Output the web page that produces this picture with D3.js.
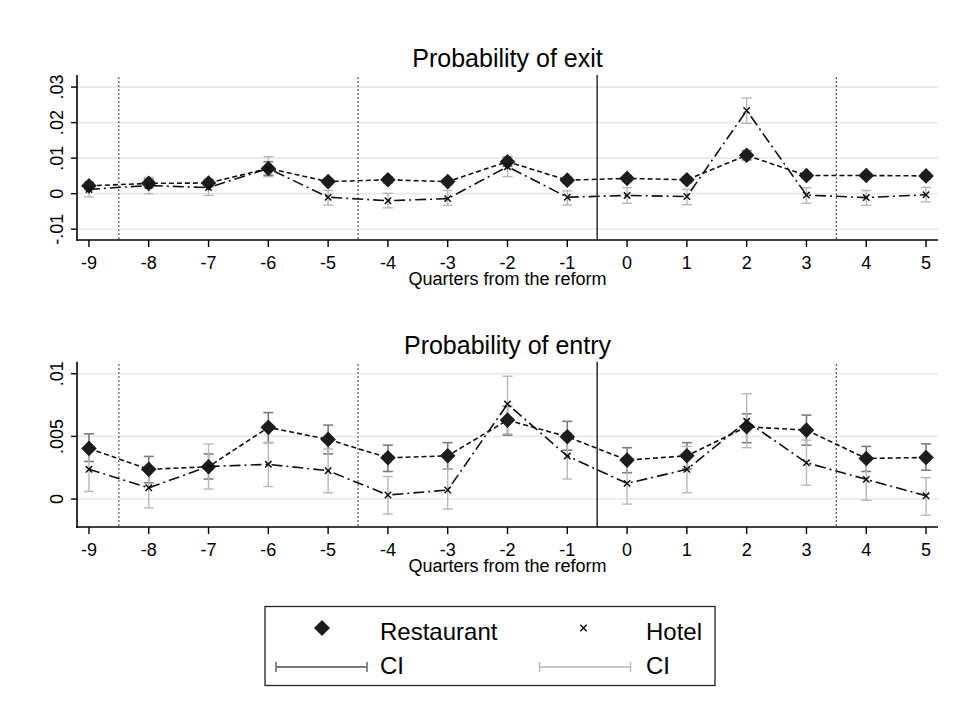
<!DOCTYPE html>
<html>
<head>
<meta charset="utf-8">
<script src="https://cdn.jsdelivr.net/npm/d3@7"></script>
<style>
  html, body { margin: 0; padding: 0; background: #fff; }
  svg { display: block; font-family: "Liberation Sans", Arial, sans-serif; }
</style>
</head>
<body>
<svg id="chart" width="959" height="704"></svg>
<script>
// Event-study estimates by quarter relative to the reform
const quarters = [-9, -8, -7, -6, -5, -4, -3, -2, -1, 0, 1, 2, 3, 4, 5];
const xTickLabels = ["-9", "-8", "-7", "-6", "-5", "-4", "-3", "-2", "-1", "0", "1", "2", "3", "4", "5"];

// Probability of exit
const exitRest   = [0.0022, 0.0029, 0.0030, 0.0071, 0.0034, 0.0039, 0.0034, 0.0090, 0.0038, 0.0043, 0.0039, 0.0108, 0.0051, 0.0051, 0.0050];
const exitRestLo = [0.0012, 0.0017, 0.0020, 0.0052, 0.0026, 0.0031, 0.0026, 0.0077, 0.0030, 0.0035, 0.0031, 0.0095, 0.0043, 0.0043, 0.0042];
const exitRestHi = [0.0032, 0.0041, 0.0040, 0.0090, 0.0042, 0.0047, 0.0042, 0.0103, 0.0046, 0.0051, 0.0047, 0.0121, 0.0059, 0.0059, 0.0058];
const exitHotel   = [0.0012, 0.0023, 0.0017, 0.0071, -0.0010, -0.0020, -0.0014, 0.0076, -0.0010, -0.0005, -0.0008, 0.0234, -0.0004, -0.0011, -0.0003];
const exitHotelLo = [-0.0009, 0.0000, -0.0005, 0.0048, -0.0032, -0.0040, -0.0033, 0.0048, -0.0032, -0.0027, -0.0031, 0.0198, -0.0027, -0.0033, -0.0023];
const exitHotelHi = [0.0034, 0.0046, 0.0040, 0.0104, 0.0009, 0.0001, 0.0009, 0.0100, 0.0008, 0.0017, 0.0012, 0.0269, 0.0017, 0.0009, 0.0018];
const exitYTicks = [-0.01, 0, 0.01, 0.02, 0.03];
const exitYLabels = ["-.01", "0", ".01", ".02", ".03"];

// Probability of entry
const entryRest   = [0.00404, 0.00237, 0.00258, 0.00572, 0.00476, 0.00329, 0.00345, 0.0063, 0.00497, 0.00311, 0.00345, 0.00577, 0.0055, 0.00324, 0.00332];
const entryRestLo = [0.0030, 0.0013, 0.0016, 0.0045, 0.0036, 0.0022, 0.0024, 0.0051, 0.0039, 0.0021, 0.0024, 0.0045, 0.0043, 0.0022, 0.0023];
const entryRestHi = [0.0052, 0.0034, 0.0036, 0.0069, 0.0059, 0.0043, 0.0045, 0.0074, 0.0062, 0.0041, 0.0045, 0.0068, 0.0067, 0.0042, 0.0044];
const entryHotel   = [0.00237, 0.0009, 0.0026, 0.00277, 0.00226, 0.00032, 0.00072, 0.00758, 0.00343, 0.00125, 0.00237, 0.0062, 0.0029, 0.00157, 0.00026];
const entryHotelLo = [0.0006, -0.0007, 0.0008, 0.0010, 0.0005, -0.0012, -0.0008, 0.0052, 0.0016, -0.0004, 0.0005, 0.0041, 0.0011, -0.0001, -0.0013];
const entryHotelHi = [0.0042, 0.0025, 0.0044, 0.0045, 0.0040, 0.0018, 0.0024, 0.0098, 0.0053, 0.0029, 0.0042, 0.0084, 0.0047, 0.0033, 0.0017];
const entryYTicks = [0, 0.005, 0.01];
const entryYLabels = ["0", ".005", ".01"];

// Reference lines: the reform (solid) and period breaks (dotted)
const reformLine = -0.5;
const breakLines = [-8.5, -4.5, 3.5];

const xAxisTitle = "Quarters from the reform";
const legendItems = ["Restaurant", "Hotel", "CI", "CI"];

const svg = d3.select("#chart");
const FONT = "\"Liberation Sans\", Arial, sans-serif";
const colRestCI = "#7c7c7c";
const colHotelCI = "#b8b8b8";
const colGrid = "#e9e9e9";

const x = d3.scaleLinear().domain([-9.2, 5.2]).range([77, 938]);

function diamondPath(r) {
  return `M0,${-r}L${r},0L0,${r}L${-r},0Z`;
}
function crossPath(r) {
  return `M${-r},${-r}L${r},${r}M${-r},${r}L${r},${-r}`;
}

function panel(cfg) {
  const y = d3.scaleLinear().domain(cfg.yDomain).range(cfg.yRange);
  const g = svg.append("g");
  const [yBot, yTop] = cfg.yRange;

  // gridlines
  g.selectAll(".grid").data(cfg.yTicks).join("line")
    .attr("x1", x.range()[0]).attr("x2", x.range()[1])
    .attr("y1", d => y(d)).attr("y2", d => y(d))
    .attr("stroke", colGrid).attr("stroke-width", 1.6);

  // dotted period breaks
  g.selectAll(".brk").data(breakLines).join("line")
    .attr("x1", d => x(d)).attr("x2", d => x(d))
    .attr("y1", yTop + 2.5).attr("y2", yBot)
    .attr("stroke", "#333").attr("stroke-width", 1.3)
    .attr("stroke-dasharray", "1.5,2.5");

  // reform line
  g.append("line")
    .attr("x1", x(reformLine)).attr("x2", x(reformLine))
    .attr("y1", yTop).attr("y2", yBot)
    .attr("stroke", "#3a3a3a").attr("stroke-width", 1.6);

  // confidence intervals
  function ci(lo, hi, color, w) {
    const d = quarters.map((q, i) => ({ q, lo: lo[i], hi: hi[i] }));
    const cg = g.append("g").attr("stroke", color).attr("stroke-width", w).attr("fill", "none");
    cg.selectAll(".v").data(d).join("line")
      .attr("x1", d => x(d.q)).attr("x2", d => x(d.q))
      .attr("y1", d => y(d.lo)).attr("y2", d => y(d.hi));
    cg.selectAll(".c1").data(d).join("line")
      .attr("x1", d => x(d.q) - 5).attr("x2", d => x(d.q) + 5)
      .attr("y1", d => y(d.lo)).attr("y2", d => y(d.lo));
    cg.selectAll(".c2").data(d).join("line")
      .attr("x1", d => x(d.q) - 5).attr("x2", d => x(d.q) + 5)
      .attr("y1", d => y(d.hi)).attr("y2", d => y(d.hi));
  }
  ci(cfg.restLo, cfg.restHi, colRestCI, 1.6);
  ci(cfg.hotelLo, cfg.hotelHi, colHotelCI, 1.4);

  const line = d3.line().x((d, i) => x(quarters[i])).y(d => y(d));

  // Restaurant: short dashes + diamonds
  g.append("path").datum(cfg.rest).attr("d", line)
    .attr("fill", "none").attr("stroke", "#111").attr("stroke-width", 1.6)
    .attr("stroke-dasharray", "5,3");
  g.selectAll(".dia").data(cfg.rest).join("path")
    .attr("transform", (d, i) => `translate(${x(quarters[i])},${y(d)})`)
    .attr("d", diamondPath(7.8)).attr("fill", "#1c1c1c");

  // Hotel: dash-dot + crosses
  g.append("path").datum(cfg.hotel).attr("d", line)
    .attr("fill", "none").attr("stroke", "#111").attr("stroke-width", 1.6)
    .attr("stroke-dasharray", "11,4,2,4");
  g.selectAll(".crs").data(cfg.hotel).join("path")
    .attr("transform", (d, i) => `translate(${x(quarters[i])},${y(d)})`)
    .attr("d", crossPath(3.2)).attr("fill", "none")
    .attr("stroke", "#111").attr("stroke-width", 1.5);

  // axes
  g.append("line").attr("x1", x.range()[0]).attr("x2", x.range()[0])
    .attr("y1", yTop).attr("y2", yBot + 0.8).attr("stroke", "#000").attr("stroke-width", 1.6);
  g.append("line").attr("x1", x.range()[0] - 0.8).attr("x2", x.range()[1])
    .attr("y1", yBot).attr("y2", yBot).attr("stroke", "#000").attr("stroke-width", 1.6);

  // y ticks and labels
  g.selectAll(".yt").data(cfg.yTicks).join("line")
    .attr("x1", x.range()[0] - 6).attr("x2", x.range()[0])
    .attr("y1", d => y(d)).attr("y2", d => y(d))
    .attr("stroke", "#000").attr("stroke-width", 1.4);
  g.selectAll(".yl").data(cfg.yTicks).join("text")
    .attr("transform", d => `translate(63,${y(d)}) rotate(-90)`)
    .attr("text-anchor", "middle")
    .attr("font-size", 18).attr("font-family", FONT).attr("fill", "#000")
    .text((d, i) => cfg.yLabels[i]);

  // x ticks and labels
  g.selectAll(".xt").data(quarters).join("line")
    .attr("x1", d => x(d)).attr("x2", d => x(d))
    .attr("y1", yBot).attr("y2", yBot + 7)
    .attr("stroke", "#000").attr("stroke-width", 1.4);
  g.selectAll(".xl").data(quarters).join("text")
    .attr("x", d => x(d)).attr("y", cfg.xLabelY)
    .attr("text-anchor", "middle")
    .attr("font-size", 18).attr("font-family", FONT).attr("fill", "#000")
    .text((d, i) => xTickLabels[i]);

  g.append("text")
    .attr("x", (x.range()[0] + x.range()[1]) / 2).attr("y", cfg.xTitleY)
    .attr("text-anchor", "middle")
    .attr("font-size", 18).attr("font-family", FONT).attr("fill", "#000")
    .text(xAxisTitle);

  g.append("text")
    .attr("x", (x.range()[0] + x.range()[1]) / 2).attr("y", cfg.titleY)
    .attr("text-anchor", "middle")
    .attr("font-size", 25).attr("font-family", FONT).attr("fill", "#000")
    .text(cfg.title);
}

panel({
  title: "Probability of exit",
  yDomain: [-0.01304, 0.0334], yRange: [240, 75],
  yTicks: exitYTicks, yLabels: exitYLabels,
  rest: exitRest, restLo: exitRestLo, restHi: exitRestHi,
  hotel: exitHotel, hotelLo: exitHotelLo, hotelHi: exitHotelHi,
  titleY: 67, xLabelY: 269, xTitleY: 285
});

panel({
  title: "Probability of entry",
  yDomain: [-0.00223, 0.01096], yRange: [527, 361.7],
  yTicks: entryYTicks, yLabels: entryYLabels,
  rest: entryRest, restLo: entryRestLo, restHi: entryRestHi,
  hotel: entryHotel, hotelLo: entryHotelLo, hotelHi: entryHotelHi,
  titleY: 354, xLabelY: 556, xTitleY: 572
});

// Legend
const lg = svg.append("g");
lg.append("rect").attr("x", 265).attr("y", 606.5).attr("width", 450).attr("height", 79)
  .attr("fill", "#fff").attr("stroke", "#222").attr("stroke-width", 1.3);
lg.append("path").attr("transform", "translate(322,628)").attr("d", diamondPath(8)).attr("fill", "#1c1c1c");
lg.append("path").attr("transform", "translate(583.5,628)").attr("d", crossPath(3.2))
  .attr("fill", "none").attr("stroke", "#111").attr("stroke-width", 1.5);
function legendCI(x1, x2, yy, color, w) {
  lg.append("line").attr("x1", x1).attr("x2", x2).attr("y1", yy).attr("y2", yy).attr("stroke", color).attr("stroke-width", w);
  lg.append("line").attr("x1", x1).attr("x2", x1).attr("y1", yy - 5).attr("y2", yy + 5).attr("stroke", color).attr("stroke-width", w);
  lg.append("line").attr("x1", x2).attr("x2", x2).attr("y1", yy - 5).attr("y2", yy + 5).attr("stroke", color).attr("stroke-width", w);
}
legendCI(276, 367, 667, colRestCI, 1.8);
legendCI(539.5, 630.5, 667, colHotelCI, 1.4);
const legendPos = [[380, 640], [646, 640], [380, 674], [646, 674]];
lg.selectAll(".lt").data(legendItems).join("text")
  .attr("x", (d, i) => legendPos[i][0]).attr("y", (d, i) => legendPos[i][1])
  .attr("font-size", 24).attr("font-family", FONT).attr("fill", "#000")
  .text(d => d);
</script>
</body>
</html>
